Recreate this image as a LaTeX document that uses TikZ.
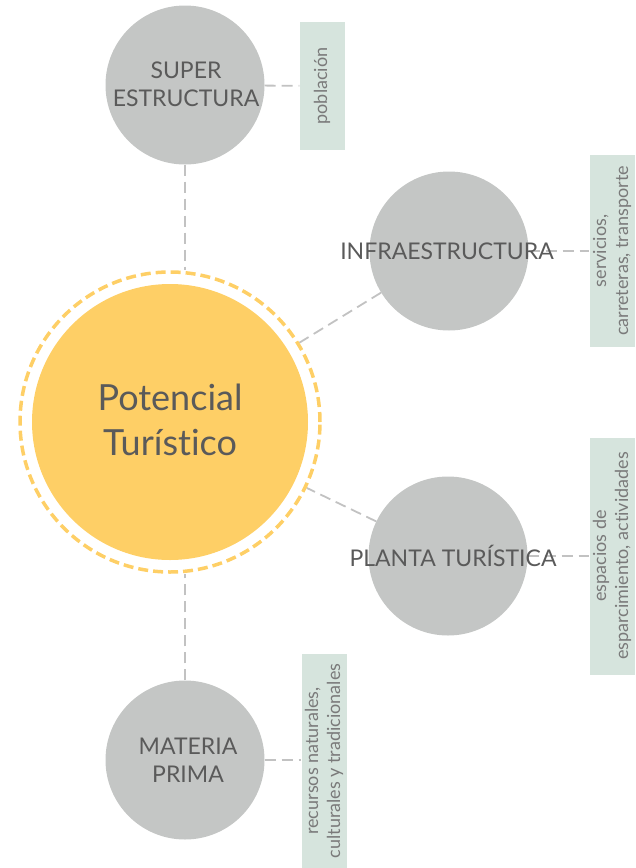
\documentclass[tikz,border=0pt]{standalone}
\usepackage{fontspec}
\setmainfont{Lato}[Ligatures=NoCommon]
\usetikzlibrary{backgrounds}

\definecolor{sunny}{HTML}{FECF66}
\definecolor{stone}{HTML}{C4C6C5}
\definecolor{sage}{HTML}{D6E4DD}
\definecolor{ink}{HTML}{5A5A5A}
\definecolor{inklight}{HTML}{7A7A7A}
\definecolor{wire}{HTML}{C2C2C2}

\tikzset{
  hub/.style={circle,fill=sunny,minimum size=276pt,inner sep=0pt},
  ring/.style={circle,draw=sunny,line width=3.5pt,dash pattern=on 10pt off 5pt,minimum size=300pt,inner sep=0pt},
  topic/.style={circle,fill=stone,minimum size=159pt,inner sep=0pt},
  lbl/.style={text=ink,align=center,font=\fontsize{23}{28}\selectfont},
  note/.style={fill=sage,rotate=90,text=inklight,align=center,inner sep=0pt,
    font=\fontsize{18}{22}\selectfont,minimum height=45pt},
  link/.style={wire,line width=1.8pt,dash pattern=on 11pt off 6pt}
}

\begin{document}
\begin{tikzpicture}[x=1pt,y=-1pt]
        \useasboundingbox (0,0) rectangle (635,868);
        \node[ring] (ring) at (170,422) {};
        \node[hub] (pot) at (170,422) {};
        \node[text=ink,align=center,font=\fontsize{36}{45}\selectfont] (potl) at (170,420) {Potencial\\Turístico};

        \node[topic] (sup) at (185,85) {};
        \node[lbl] (supl) at (186,84) {SUPER\\ESTRUCTURA};
        \node[topic] (infra) at (449,251) {};
        \node[lbl] (infral) at (447,251) {INFRAESTRUCTURA};
        \node[topic] (plan) at (448,556) {};
        \node[lbl] (planl) at (453,556) {PLANTA TURÍSTICA};
        \node[topic] (mat) at (185,760) {};
        \node[lbl] (matl) at (188,760) {MATERIA\\PRIMA};

        \node[note,minimum width=128pt] (pob) at (322,86) {población};
        \node[note,minimum width=192pt] (srv) at (612,251) {servicios,\\carreteras, transporte};
        \node[note,minimum width=237pt] (esp) at (612,556) {espacios de\\esparcimiento, actividades};
        \node[note,minimum width=214pt] (rec) at (324,761) {recursos naturales,\\culturales y tradicionales};

        \begin{scope}[on background layer]
        \draw [link] (sup.south) -- (sup.south |- ring.north);
        \draw [link] (mat.north) -- (mat.north |- ring.south);
        \draw [link] (infra) -- (ring);
        \draw [link] (plan) -- (ring);
        \draw [link] (sup) -- (pob);
        \draw [link] (infra) -- (srv);
        \draw [link] (plan) -- (esp);
        \draw [link] (mat.east) -- (mat.east -| rec.north);
        \end{scope}
\end{tikzpicture}
\end{document}
